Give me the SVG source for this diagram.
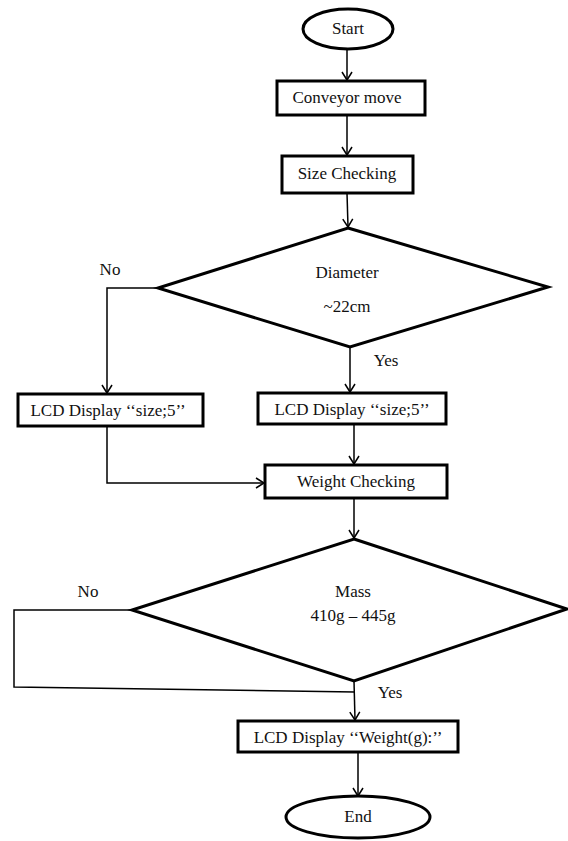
<svg xmlns="http://www.w3.org/2000/svg" width="568" height="841" viewBox="0 0 568 841">
<style>
.box{fill:#fff;stroke:#000;stroke-width:3}
.dia{fill:#fff;stroke:#000;stroke-width:3;stroke-linejoin:miter}
.ln{fill:none;stroke:#000;stroke-width:1.5}
.t{font-family:'Liberation Serif','Times New Roman',serif;font-size:17px;fill:#111;text-anchor:middle}
</style>
<defs>
<marker id="ah" markerWidth="12" markerHeight="12" refX="10" refY="6" orient="auto" markerUnits="userSpaceOnUse">
<polyline points="2,1 10,6 2,11" fill="none" stroke="#000" stroke-width="1.5"/>
</marker>
</defs>
<rect width="568" height="841" fill="#fff"/>
<g id="connectors">
<line class="ln" x1="347" y1="50" x2="347" y2="80" marker-end="url(#ah)"/>
<line class="ln" x1="347" y1="115" x2="347" y2="155" marker-end="url(#ah)"/>
<line class="ln" x1="347" y1="193" x2="348" y2="227" marker-end="url(#ah)"/>
<line class="ln" x1="350" y1="347" x2="350" y2="392" marker-end="url(#ah)"/>
<polyline class="ln" points="158,288 107,288 107,393" marker-end="url(#ah)"/>
<polyline class="ln" points="107,426 107,483 264,483" marker-end="url(#ah)"/>
<line class="ln" x1="354" y1="424" x2="354" y2="464" marker-end="url(#ah)"/>
<line class="ln" x1="354" y1="498" x2="354" y2="538" marker-end="url(#ah)"/>
<polyline class="ln" points="132,610 14,610 14,687 355,692"/>
<line class="ln" x1="354" y1="681" x2="355" y2="720" marker-end="url(#ah)"/>
<line class="ln" x1="358" y1="752" x2="358" y2="796" marker-end="url(#ah)"/>
</g>
<g id="start">
<ellipse class="box" cx="348" cy="29" rx="45" ry="20"/>
<text class="t" x="348" y="34">Start</text>
</g>
<g id="conveyor">
<rect class="box" x="277" y="81" width="148" height="34"/>
<text class="t" x="347" y="103">Conveyor move</text>
</g>
<g id="size-check">
<rect class="box" x="282" y="156" width="131" height="37"/>
<text class="t" x="347" y="179">Size Checking</text>
</g>
<g id="diameter">
<polygon class="dia" points="348,228 548,287 350,347 158,288"/>
<text class="t" x="347" y="278">Diameter</text>
<text class="t" x="347" y="312">~22cm</text>
</g>
<g id="labels1">
<text class="t" x="110" y="275">No</text>
<text class="t" x="386" y="366">Yes</text>
</g>
<g id="lcd-left">
<rect class="box" x="18" y="394" width="185" height="32"/>
<text class="t" x="108" y="416">LCD Display ‘‘size;5’’</text>
</g>
<g id="lcd-right">
<rect class="box" x="258" y="393" width="188" height="31"/>
<text class="t" x="352" y="415">LCD Display ‘‘size;5’’</text>
</g>
<g id="weight-check">
<rect class="box" x="265" y="465" width="182" height="33"/>
<text class="t" x="356" y="487">Weight Checking</text>
</g>
<g id="mass">
<polygon class="dia" points="354,539 567,609 354,681 132,610"/>
<text class="t" x="353" y="597">Mass</text>
<text class="t" x="353" y="621">410g – 445g</text>
</g>
<g id="labels2">
<text class="t" x="88" y="597">No</text>
<text class="t" x="390" y="698">Yes</text>
</g>
<g id="lcd-weight">
<rect class="box" x="238" y="721" width="220" height="31"/>
<text class="t" x="348" y="743">LCD Display ‘‘Weight(g):’’</text>
</g>
<g id="end">
<ellipse class="box" cx="358" cy="817" rx="72" ry="21"/>
<text class="t" x="358" y="822">End</text>
</g>
</svg>
